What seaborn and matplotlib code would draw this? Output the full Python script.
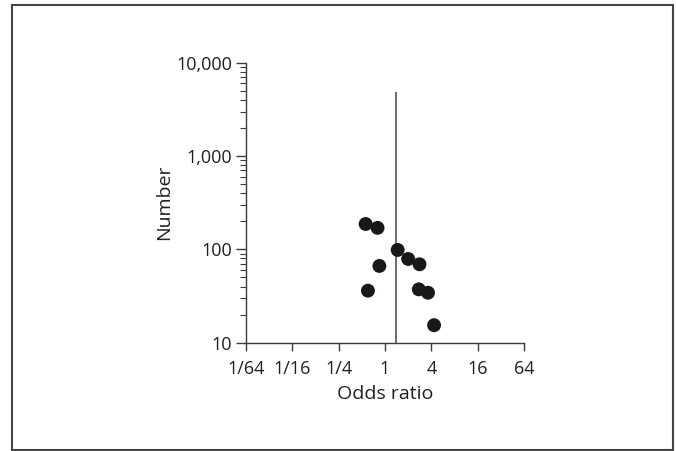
import matplotlib
matplotlib.use("Agg")
import matplotlib.pyplot as plt
import seaborn as sns
import pandas as pd
from matplotlib.patches import Rectangle
from matplotlib.ticker import FixedLocator, FixedFormatter, LogLocator, NullFormatter

# ---- data ----
odds_ratio = [0.56, 0.80, 1.46, 2.00, 2.81, 0.845, 0.60, 2.75, 3.62, 4.34]
number = [187, 170, 98.6, 78.9, 69.2, 66.4, 36.1, 37.3, 34.3, 15.4]
pooled_or = 1.38
pooled_line_top = 4900
x_tick_values = [1/64, 1/16, 1/4, 1, 4, 16, 64]
x_tick_labels = ["1/64", "1/16", "1/4", "1", "4", "16", "64"]
y_tick_values = [10, 100, 1000, 10000]
y_tick_labels = ["10", "100", "1,000", "10,000"]

sns.set_theme(style="white")
plt.rcParams['font.family'] = ['Open Sans', 'DejaVu Sans']

fig = plt.figure(figsize=(6.76, 4.51), dpi=100)
ax = fig.add_axes([246/676, (451-342.7)/451, (524-246)/676, (342.7-62.7)/451])

df = pd.DataFrame({"Odds ratio": odds_ratio, "Number": number})
sns.scatterplot(data=df, x="Odds ratio", y="Number", ax=ax, s=100,
                color="#1a1718", edgecolor="none", zorder=3)

ax.set_xscale("log", base=2)
ax.set_yscale("log")
ax.set_xlim(1/64, 64)
ax.set_ylim(10, 10000)

ax.vlines(pooled_or, 10, pooled_line_top, color="#6b6b6b", linewidth=1.4, zorder=2)

ax.xaxis.set_major_locator(FixedLocator(x_tick_values))
ax.xaxis.set_major_formatter(FixedFormatter(x_tick_labels))
ax.xaxis.set_minor_locator(FixedLocator([]))
ax.yaxis.set_major_locator(FixedLocator(y_tick_values))
ax.yaxis.set_major_formatter(FixedFormatter(y_tick_labels))
ax.yaxis.set_minor_locator(LogLocator(base=10, subs=range(2, 10)))
ax.yaxis.set_minor_formatter(NullFormatter())

for s in ["top", "right"]:
    ax.spines[s].set_visible(False)
for s in ["left", "bottom"]:
    ax.spines[s].set_color("#3a3a3a")
    ax.spines[s].set_linewidth(1.0)

txtc = "#231f20"
ax.tick_params(axis="x", which="major", direction="out", length=5.5, width=1.0,
               color="#3a3a3a", labelsize=13, labelcolor=txtc, pad=7, bottom=True)
ax.tick_params(axis="y", which="major", direction="out", length=7, width=1.0,
               color="#3a3a3a", labelsize=13, labelcolor=txtc, pad=3, left=True)
ax.tick_params(axis="y", which="minor", direction="out", length=4, width=0.8,
               color="#3a3a3a", left=True)

ax.set_xlabel("Odds ratio", fontsize=14, color=txtc, labelpad=5)
ax.set_ylabel("Number", fontsize=14, color=txtc, labelpad=2)

fig.add_artist(Rectangle((12/676, 1/451), (673-12)/676, 445/451,
                         transform=fig.transFigure, fill=False,
                         edgecolor="#444444", linewidth=1.5))

fig.savefig("out.png", dpi=100)
